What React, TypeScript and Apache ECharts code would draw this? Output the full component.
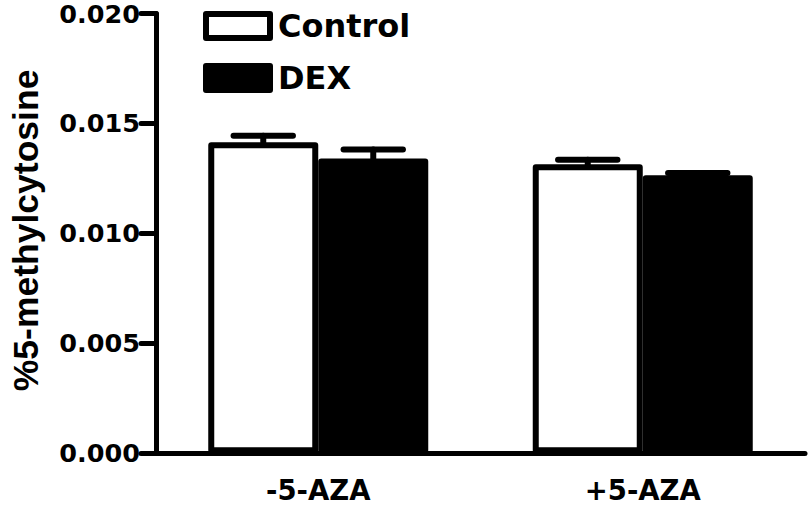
import React, { useEffect, useRef } from "react";
import * as echarts from "echarts";

const categories = ["-5-AZA", "+5-AZA"];
const controlValues = [0.01414, 0.01315];
const controlErrors = [0.0003, 0.0002];
const dexValues = [0.01341, 0.01265];
const dexErrors = [0.0004, 0.0001];
const yTicks = [0, 0.005, 0.01, 0.015, 0.02];

const WIDE = "'DejaVu Sans', Verdana, sans-serif";
const ARIAL = "'Liberation Sans', Arial, Helvetica, sans-serif";
const BAR_WIDTH = 110;
const BORDER = 6;

function errorSeries(name: string, values: number[], errors: number[], offset: number) {
  return {
    name: name + " SEM",
    type: "custom",
    z: 1,
    silent: true,
    data: values.map((v, i) => [i, v, errors[i]]),
    encode: { x: 0, y: 1 },
    renderItem: (params: any, api: any) => {
      const cat = api.value(0);
      const v = api.value(1);
      const e = api.value(2);
      const base = api.coord([cat, v]);
      const top = api.coord([cat, v + e]);
      const x = base[0] + offset;
      const capHalf = BAR_WIDTH * 0.27;
      const style = { stroke: "#000", lineWidth: 6, lineCap: "round" };
      return {
        type: "group",
        children: [
          { type: "line", shape: { x1: x, y1: base[1], x2: x, y2: top[1] }, style },
          { type: "line", shape: { x1: x - capHalf, y1: top[1], x2: x + capHalf, y2: top[1] }, style },
        ],
      };
    },
  };
}

export default function App() {
  const ref = useRef<HTMLDivElement>(null);
  useEffect(() => {
    if (!ref.current) return;
    const chart = echarts.init(ref.current, null, { renderer: "svg" });
    chart.setOption({
      animation: false,
      backgroundColor: "#fff",
      textStyle: { fontFamily: WIDE },
      grid: { left: 144, right: 5, top: 13.5, bottom: 52.7 },
      legend: {
        orient: "vertical",
        left: 198,
        top: 5,
        icon: "rect",
        itemWidth: 64,
        itemHeight: 24,
        itemGap: 20,
        selectedMode: false,
        textStyle: { fontFamily: WIDE, fontWeight: "bold", fontSize: 32, color: "#000", lineHeight: 30, padding: [0, 0, 0, 3] },
        data: [
          { name: "Control", itemStyle: { color: "#fff", borderColor: "#000", borderWidth: BORDER } },
          { name: "DEX", itemStyle: { color: "#000", borderColor: "#000", borderWidth: BORDER } },
        ],
      },
      xAxis: {
        type: "category",
        data: categories,
        axisLine: { lineStyle: { color: "#000", width: 5, cap: "round" } },
        axisTick: { show: false },
        axisLabel: { color: "#000", fontSize: 27.5, fontWeight: "bold", fontFamily: WIDE, margin: 26.5, lineHeight: 20 },
      },
      yAxis: {
        type: "value",
        min: 0,
        max: 0.02,
        interval: 0.005,
        name: "%5-methylcytosine",
        nameLocation: "middle",
        nameRotate: 90,
        nameGap: 112,
        nameTextStyle: { color: "#000", fontSize: 35.5, fontWeight: "bold", fontFamily: ARIAL, padding: [0, 0, 0, 6] },
        splitLine: { show: false },
        axisLine: { show: true, lineStyle: { color: "#000", width: 5, cap: "round" } },
        axisTick: { show: true, length: 15, lineStyle: { color: "#000", width: 5, cap: "round" } },
        axisLabel: {
          color: "#000",
          fontSize: 25.5,
          fontWeight: "bold",
          fontFamily: WIDE,
          margin: 16,
          formatter: (v: number) => {
            const t = yTicks.find((k) => Math.abs(k - v) < 1e-9);
            return (t ?? v).toFixed(3);
          },
        },
      },
      series: [
        errorSeries("Control", controlValues, controlErrors, -BAR_WIDTH / 2),
        errorSeries("DEX", dexValues, dexErrors, BAR_WIDTH / 2),
        {
          name: "Control",
          type: "bar",
          z: 2,
          barWidth: BAR_WIDTH,
          barGap: "0%",
          data: controlValues,
          itemStyle: { color: "#fff", borderColor: "#000", borderWidth: BORDER, borderJoin: "round" },
        },
        {
          name: "DEX",
          type: "bar",
          z: 2,
          barWidth: BAR_WIDTH,
          barGap: "0%",
          data: dexValues,
          itemStyle: { color: "#000", borderColor: "#000", borderWidth: BORDER, borderJoin: "round" },
        },
      ],
    });
    return () => chart.dispose();
  }, []);
  return <div ref={ref} style={{ width: 810, height: 506, position: "absolute", left: 0, top: 0 }} />;
}
